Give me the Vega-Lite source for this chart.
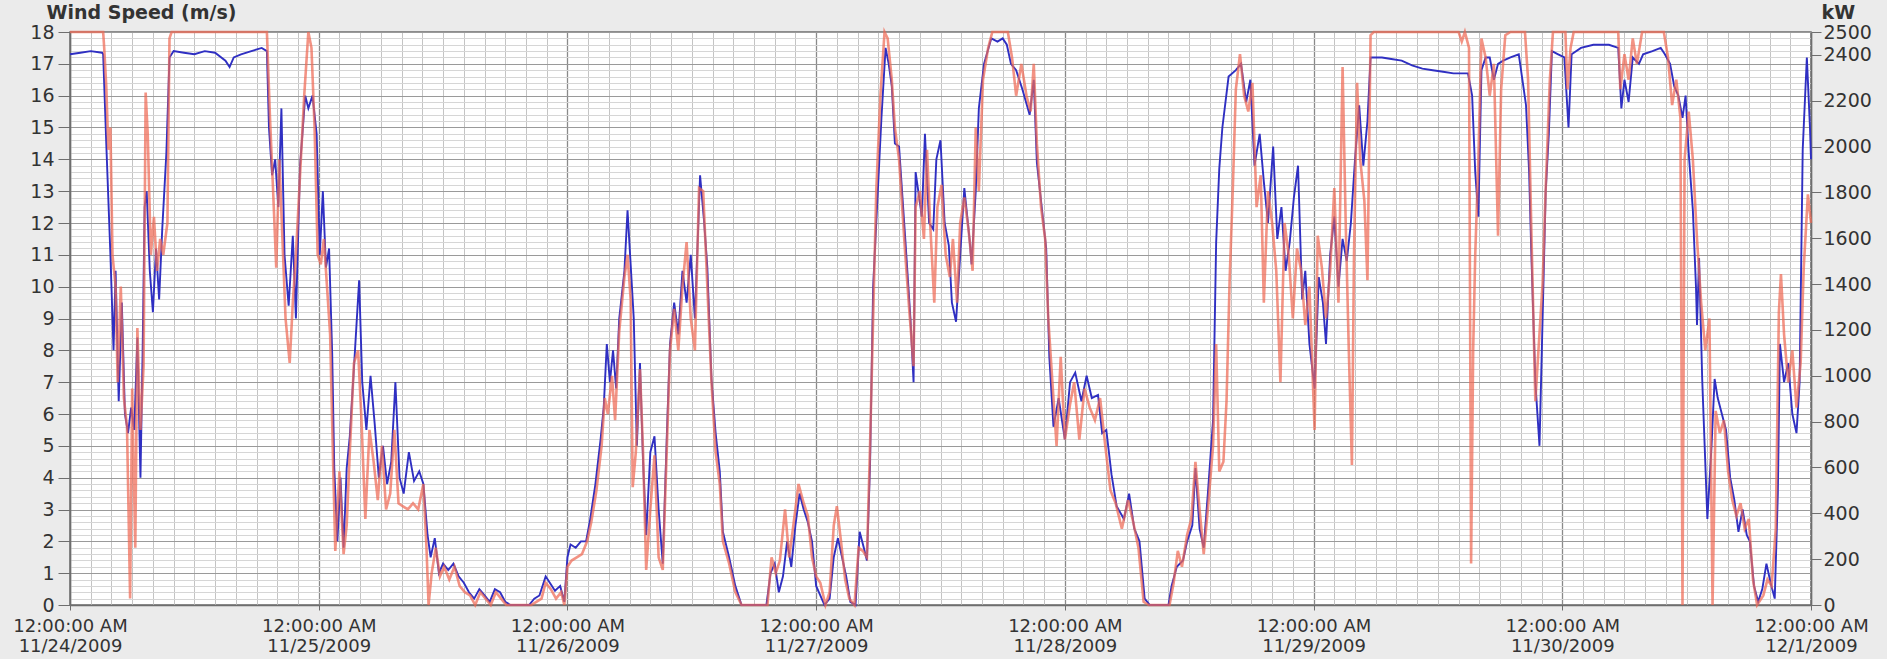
{
  "$schema": "https://vega.github.io/schema/vega-lite/v6.json",
  "width": 1741,
  "height": 573,
  "autosize": {"type": "none"},
  "padding": {"left": 70, "top": 32, "right": 76, "bottom": 54},
  "background": "#ebebeb",
  "view": {"fill": "white", "stroke": "#6e6e6e", "strokeWidth": 1.5},
  "config": {"font": "DejaVu Sans"},
  "datasets": {
    "wind": [
      {"hours":0,"wind_speed":17.3},{"hours":1,"wind_speed":17.35},{"hours":2,"wind_speed":17.4},{"hours":3.1,"wind_speed":17.35},{"hours":3.2,"wind_speed":17.3},{"hours":3.5,"wind_speed":14.5},{"hours":3.9,"wind_speed":11.0},{"hours":4.2,"wind_speed":8.0},{"hours":4.4,"wind_speed":10.5},{"hours":4.7,"wind_speed":6.4},{"hours":5.0,"wind_speed":9.5},{"hours":5.3,"wind_speed":6.0},{"hours":5.6,"wind_speed":5.4},{"hours":5.9,"wind_speed":6.2},{"hours":6.2,"wind_speed":5.5},{"hours":6.5,"wind_speed":8.4},{"hours":6.8,"wind_speed":4.0},{"hours":7.0,"wind_speed":7.8},{"hours":7.2,"wind_speed":12.5},{"hours":7.4,"wind_speed":13.0},{"hours":7.7,"wind_speed":10.5},{"hours":8.0,"wind_speed":9.2},{"hours":8.3,"wind_speed":11.2},{"hours":8.6,"wind_speed":9.6},{"hours":8.9,"wind_speed":11.8},{"hours":9.3,"wind_speed":14.2},{"hours":9.6,"wind_speed":17.2},{"hours":10,"wind_speed":17.4},{"hours":11,"wind_speed":17.35},{"hours":12,"wind_speed":17.3},{"hours":13,"wind_speed":17.4},{"hours":14,"wind_speed":17.35},{"hours":15,"wind_speed":17.1},{"hours":15.4,"wind_speed":16.9},{"hours":15.8,"wind_speed":17.2},{"hours":16.5,"wind_speed":17.3},{"hours":17.5,"wind_speed":17.4},{"hours":18.5,"wind_speed":17.5},{"hours":19.0,"wind_speed":17.4},{"hours":19.2,"wind_speed":15.0},{"hours":19.5,"wind_speed":13.5},{"hours":19.8,"wind_speed":14.0},{"hours":20.1,"wind_speed":12.5},{"hours":20.4,"wind_speed":15.6},{"hours":20.7,"wind_speed":11.0},{"hours":21.1,"wind_speed":9.4},{"hours":21.5,"wind_speed":11.6},{"hours":21.8,"wind_speed":9.0},{"hours":22.2,"wind_speed":13.8},{"hours":22.7,"wind_speed":16.0},{"hours":23.0,"wind_speed":15.6},{"hours":23.4,"wind_speed":16.0},{"hours":23.8,"wind_speed":14.8},{"hours":24.1,"wind_speed":11.0},{"hours":24.4,"wind_speed":13.0},{"hours":24.7,"wind_speed":10.6},{"hours":25.0,"wind_speed":11.2},{"hours":25.3,"wind_speed":7.9},{"hours":25.5,"wind_speed":4.3},{"hours":25.8,"wind_speed":2.0},{"hours":26.1,"wind_speed":4.0},{"hours":26.4,"wind_speed":1.8},{"hours":26.7,"wind_speed":4.3},{"hours":27.0,"wind_speed":5.3},{"hours":27.5,"wind_speed":8.0},{"hours":27.9,"wind_speed":10.2},{"hours":28.2,"wind_speed":7.0},{"hours":28.6,"wind_speed":5.5},{"hours":29.0,"wind_speed":7.2},{"hours":29.4,"wind_speed":5.7},{"hours":29.8,"wind_speed":4.0},{"hours":30.2,"wind_speed":5.0},{"hours":30.6,"wind_speed":3.8},{"hours":31.0,"wind_speed":4.5},{"hours":31.4,"wind_speed":7.0},{"hours":31.8,"wind_speed":4.0},{"hours":32.2,"wind_speed":3.5},{"hours":32.7,"wind_speed":4.8},{"hours":33.2,"wind_speed":3.9},{"hours":33.7,"wind_speed":4.2},{"hours":34.1,"wind_speed":3.8},{"hours":34.5,"wind_speed":2.2},{"hours":34.8,"wind_speed":1.5},{"hours":35.2,"wind_speed":2.1},{"hours":35.6,"wind_speed":1.0},{"hours":36.0,"wind_speed":1.3},{"hours":36.5,"wind_speed":1.1},{"hours":37.0,"wind_speed":1.3},{"hours":37.5,"wind_speed":0.9},{"hours":38.0,"wind_speed":0.7},{"hours":38.5,"wind_speed":0.4},{"hours":39.0,"wind_speed":0.2},{"hours":39.5,"wind_speed":0.5},{"hours":40.0,"wind_speed":0.3},{"hours":40.5,"wind_speed":0.1},{"hours":41.0,"wind_speed":0.5},{"hours":41.5,"wind_speed":0.4},{"hours":42.0,"wind_speed":0.1},{"hours":42.5,"wind_speed":0},{"hours":44.3,"wind_speed":0},{"hours":44.8,"wind_speed":0.2},{"hours":45.3,"wind_speed":0.3},{"hours":45.9,"wind_speed":0.9},{"hours":46.3,"wind_speed":0.7},{"hours":46.8,"wind_speed":0.45},{"hours":47.3,"wind_speed":0.6},{"hours":47.7,"wind_speed":0.1},{"hours":48.0,"wind_speed":1.5},{"hours":48.3,"wind_speed":1.9},{"hours":48.8,"wind_speed":1.8},{"hours":49.3,"wind_speed":2.0},{"hours":49.8,"wind_speed":2.0},{"hours":50.2,"wind_speed":2.7},{"hours":50.7,"wind_speed":3.8},{"hours":51.2,"wind_speed":5.2},{"hours":51.5,"wind_speed":6.2},{"hours":51.8,"wind_speed":8.2},{"hours":52.1,"wind_speed":7.0},{"hours":52.4,"wind_speed":8.0},{"hours":52.7,"wind_speed":6.8},{"hours":53.0,"wind_speed":9.0},{"hours":53.5,"wind_speed":10.5},{"hours":53.8,"wind_speed":12.4},{"hours":54.1,"wind_speed":10.7},{"hours":54.4,"wind_speed":9.0},{"hours":54.7,"wind_speed":5.0},{"hours":55.0,"wind_speed":7.6},{"hours":55.3,"wind_speed":4.5},{"hours":55.6,"wind_speed":2.2},{"hours":56.0,"wind_speed":4.8},{"hours":56.4,"wind_speed":5.3},{"hours":56.8,"wind_speed":3.0},{"hours":57.2,"wind_speed":1.3},{"hours":57.6,"wind_speed":5.4},{"hours":57.9,"wind_speed":8.2},{"hours":58.3,"wind_speed":9.5},{"hours":58.7,"wind_speed":8.5},{"hours":59.1,"wind_speed":10.5},{"hours":59.5,"wind_speed":9.5},{"hours":59.9,"wind_speed":11.0},{"hours":60.3,"wind_speed":9.0},{"hours":60.8,"wind_speed":13.5},{"hours":61.2,"wind_speed":12.0},{"hours":61.5,"wind_speed":10.6},{"hours":61.9,"wind_speed":7.1},{"hours":62.3,"wind_speed":5.4},{"hours":62.7,"wind_speed":4.2},{"hours":63.0,"wind_speed":2.3},{"hours":63.6,"wind_speed":1.5},{"hours":64.2,"wind_speed":0.6},{"hours":64.8,"wind_speed":0},{"hours":67.2,"wind_speed":0},{"hours":67.6,"wind_speed":1.0},{"hours":68.0,"wind_speed":1.3},{"hours":68.4,"wind_speed":0.4},{"hours":68.8,"wind_speed":0.9},{"hours":69.2,"wind_speed":2.0},{"hours":69.6,"wind_speed":1.2},{"hours":70.0,"wind_speed":2.5},{"hours":70.4,"wind_speed":3.5},{"hours":70.8,"wind_speed":3.0},{"hours":71.2,"wind_speed":2.6},{"hours":71.6,"wind_speed":2.0},{"hours":72.0,"wind_speed":0.6},{"hours":72.4,"wind_speed":0.3},{"hours":72.8,"wind_speed":0},{"hours":73.3,"wind_speed":0.2},{"hours":73.7,"wind_speed":1.5},{"hours":74.1,"wind_speed":2.1},{"hours":74.5,"wind_speed":1.5},{"hours":74.9,"wind_speed":0.9},{"hours":75.3,"wind_speed":0.1},{"hours":75.8,"wind_speed":0},{"hours":76.2,"wind_speed":2.3},{"hours":76.6,"wind_speed":1.8},{"hours":76.9,"wind_speed":1.4},{"hours":77.2,"wind_speed":4.4},{"hours":77.5,"wind_speed":10.0},{"hours":77.8,"wind_speed":12.0},{"hours":78.3,"wind_speed":15.3},{"hours":78.7,"wind_speed":17.5},{"hours":79.0,"wind_speed":17.0},{"hours":79.3,"wind_speed":16.3},{"hours":79.6,"wind_speed":14.5},{"hours":80.0,"wind_speed":14.4},{"hours":80.6,"wind_speed":11.5},{"hours":81.1,"wind_speed":9.0},{"hours":81.4,"wind_speed":7.0},{"hours":81.6,"wind_speed":13.6},{"hours":82.2,"wind_speed":12.2},{"hours":82.5,"wind_speed":14.8},{"hours":82.9,"wind_speed":12.0},{"hours":83.3,"wind_speed":11.8},{"hours":83.6,"wind_speed":14.0},{"hours":84.0,"wind_speed":14.6},{"hours":84.4,"wind_speed":12.0},{"hours":84.8,"wind_speed":11.3},{"hours":85.1,"wind_speed":9.5},{"hours":85.5,"wind_speed":8.9},{"hours":85.9,"wind_speed":11.0},{"hours":86.3,"wind_speed":13.1},{"hours":86.8,"wind_speed":11.5},{"hours":87.0,"wind_speed":10.7},{"hours":87.4,"wind_speed":13.0},{"hours":87.7,"wind_speed":15.6},{"hours":88.2,"wind_speed":17.0},{"hours":88.9,"wind_speed":17.8},{"hours":89.5,"wind_speed":17.7},{"hours":90.0,"wind_speed":17.8},{"hours":90.4,"wind_speed":17.6},{"hours":90.8,"wind_speed":17.0},{"hours":91.3,"wind_speed":16.8},{"hours":91.9,"wind_speed":16.2},{"hours":92.6,"wind_speed":15.4},{"hours":93.0,"wind_speed":16.5},{"hours":93.3,"wind_speed":13.9},{"hours":93.8,"wind_speed":12.4},{"hours":94.2,"wind_speed":11.2},{"hours":94.5,"wind_speed":7.8},{"hours":94.9,"wind_speed":5.6},{"hours":95.4,"wind_speed":6.5},{"hours":96.0,"wind_speed":5.2},{"hours":96.5,"wind_speed":7.0},{"hours":97.0,"wind_speed":7.3},{"hours":97.6,"wind_speed":6.4},{"hours":98.1,"wind_speed":7.2},{"hours":98.6,"wind_speed":6.5},{"hours":99.2,"wind_speed":6.6},{"hours":99.6,"wind_speed":5.4},{"hours":100.0,"wind_speed":5.5},{"hours":100.5,"wind_speed":4.1},{"hours":101.0,"wind_speed":3.1},{"hours":101.7,"wind_speed":2.7},{"hours":102.2,"wind_speed":3.5},{"hours":102.7,"wind_speed":2.4},{"hours":103.2,"wind_speed":2.0},{"hours":103.7,"wind_speed":0.2},{"hours":104.2,"wind_speed":0},{"hours":106.0,"wind_speed":0},{"hours":106.3,"wind_speed":0.6},{"hours":106.8,"wind_speed":1.2},{"hours":107.4,"wind_speed":1.4},{"hours":107.8,"wind_speed":2.0},{"hours":108.3,"wind_speed":2.5},{"hours":108.6,"wind_speed":4.3},{"hours":109.0,"wind_speed":2.4},{"hours":109.4,"wind_speed":1.8},{"hours":109.8,"wind_speed":3.5},{"hours":110.3,"wind_speed":5.8},{"hours":110.6,"wind_speed":11.4},{"hours":110.9,"wind_speed":13.7},{"hours":111.2,"wind_speed":15.0},{"hours":111.8,"wind_speed":16.6},{"hours":112.5,"wind_speed":16.8},{"hours":113.0,"wind_speed":17.0},{"hours":113.5,"wind_speed":15.8},{"hours":113.9,"wind_speed":16.5},{"hours":114.3,"wind_speed":13.8},{"hours":114.8,"wind_speed":14.8},{"hours":115.2,"wind_speed":13.3},{"hours":115.6,"wind_speed":12.0},{"hours":116.1,"wind_speed":14.4},{"hours":116.5,"wind_speed":11.5},{"hours":116.9,"wind_speed":12.5},{"hours":117.3,"wind_speed":10.5},{"hours":117.7,"wind_speed":11.4},{"hours":118.1,"wind_speed":12.8},{"hours":118.5,"wind_speed":13.8},{"hours":118.9,"wind_speed":9.6},{"hours":119.2,"wind_speed":10.5},{"hours":119.6,"wind_speed":8.2},{"hours":120.1,"wind_speed":6.8},{"hours":120.5,"wind_speed":10.3},{"hours":120.9,"wind_speed":9.5},{"hours":121.2,"wind_speed":8.2},{"hours":121.6,"wind_speed":11.0},{"hours":122.0,"wind_speed":12.2},{"hours":122.4,"wind_speed":10.0},{"hours":122.8,"wind_speed":11.5},{"hours":123.2,"wind_speed":10.8},{"hours":123.6,"wind_speed":12.0},{"hours":124.0,"wind_speed":14.0},{"hours":124.4,"wind_speed":15.7},{"hours":124.8,"wind_speed":13.8},{"hours":125.2,"wind_speed":15.2},{"hours":125.5,"wind_speed":17.2},{"hours":126.6,"wind_speed":17.2},{"hours":127.5,"wind_speed":17.15},{"hours":128.5,"wind_speed":17.1},{"hours":129.5,"wind_speed":16.95},{"hours":130.5,"wind_speed":16.85},{"hours":131.5,"wind_speed":16.8},{"hours":132.5,"wind_speed":16.75},{"hours":133.5,"wind_speed":16.7},{"hours":134.9,"wind_speed":16.7},{"hours":135.3,"wind_speed":16.0},{"hours":135.6,"wind_speed":13.6},{"hours":135.9,"wind_speed":12.2},{"hours":136.2,"wind_speed":16.8},{"hours":136.6,"wind_speed":17.2},{"hours":137.0,"wind_speed":17.2},{"hours":137.4,"wind_speed":16.5},{"hours":137.8,"wind_speed":17.0},{"hours":138.3,"wind_speed":17.1},{"hours":139.0,"wind_speed":17.2},{"hours":139.8,"wind_speed":17.3},{"hours":140.5,"wind_speed":15.7},{"hours":140.8,"wind_speed":13.6},{"hours":141.0,"wind_speed":11.2},{"hours":141.4,"wind_speed":7.0},{"hours":141.8,"wind_speed":5.0},{"hours":142.1,"wind_speed":9.0},{"hours":142.4,"wind_speed":13.0},{"hours":142.7,"wind_speed":14.8},{"hours":143.0,"wind_speed":17.4},{"hours":143.6,"wind_speed":17.3},{"hours":144.2,"wind_speed":17.2},{"hours":144.6,"wind_speed":15.0},{"hours":144.9,"wind_speed":17.3},{"hours":145.8,"wind_speed":17.5},{"hours":147.0,"wind_speed":17.6},{"hours":148.5,"wind_speed":17.6},{"hours":149.4,"wind_speed":17.5},{"hours":149.7,"wind_speed":15.6},{"hours":150.0,"wind_speed":16.5},{"hours":150.4,"wind_speed":15.8},{"hours":150.8,"wind_speed":17.2},{"hours":151.4,"wind_speed":17.0},{"hours":151.8,"wind_speed":17.3},{"hours":152.7,"wind_speed":17.4},{"hours":153.5,"wind_speed":17.5},{"hours":153.9,"wind_speed":17.3},{"hours":154.4,"wind_speed":17.0},{"hours":154.8,"wind_speed":16.3},{"hours":155.2,"wind_speed":16.0},{"hours":155.6,"wind_speed":15.3},{"hours":155.9,"wind_speed":16.0},{"hours":156.2,"wind_speed":14.2},{"hours":156.6,"wind_speed":12.4},{"hours":156.9,"wind_speed":10.0},{"hours":157.0,"wind_speed":8.8},{"hours":157.2,"wind_speed":10.9},{"hours":157.5,"wind_speed":7.1},{"hours":158.0,"wind_speed":2.7},{"hours":158.4,"wind_speed":5.0},{"hours":158.7,"wind_speed":7.1},{"hours":159.0,"wind_speed":6.5},{"hours":159.4,"wind_speed":6.0},{"hours":159.8,"wind_speed":5.5},{"hours":160.2,"wind_speed":4.0},{"hours":160.6,"wind_speed":3.3},{"hours":161.0,"wind_speed":2.3},{"hours":161.4,"wind_speed":3.0},{"hours":161.8,"wind_speed":2.2},{"hours":162.1,"wind_speed":2.0},{"hours":162.5,"wind_speed":0.6},{"hours":162.9,"wind_speed":0.1},{"hours":163.3,"wind_speed":0.5},{"hours":163.7,"wind_speed":1.3},{"hours":164.1,"wind_speed":0.7},{"hours":164.5,"wind_speed":0.2},{"hours":164.8,"wind_speed":3.5},{"hours":165.0,"wind_speed":8.2},{"hours":165.4,"wind_speed":7.0},{"hours":165.8,"wind_speed":7.6},{"hours":166.2,"wind_speed":6.0},{"hours":166.6,"wind_speed":5.4},{"hours":166.9,"wind_speed":7.0},{"hours":167.2,"wind_speed":14.3},{"hours":167.6,"wind_speed":17.2},{"hours":167.9,"wind_speed":15.0},{"hours":168.0,"wind_speed":14.0}
    ],
    "power": [
      {"hours":0,"power_kw":2500},{"hours":3.2,"power_kw":2500},{"hours":3.3,"power_kw":2431},{"hours":3.5,"power_kw":2264},{"hours":3.7,"power_kw":1986},{"hours":3.9,"power_kw":2083},{"hours":4.1,"power_kw":1528},{"hours":4.4,"power_kw":1389},{"hours":4.6,"power_kw":972},{"hours":4.9,"power_kw":1389},{"hours":5.2,"power_kw":903},{"hours":5.5,"power_kw":778},{"hours":5.8,"power_kw":28},{"hours":6.0,"power_kw":944},{"hours":6.3,"power_kw":250},{"hours":6.5,"power_kw":1208},{"hours":6.8,"power_kw":764},{"hours":7.1,"power_kw":1042},{"hours":7.3,"power_kw":2236},{"hours":7.5,"power_kw":2056},{"hours":7.8,"power_kw":1528},{"hours":8.1,"power_kw":1694},{"hours":8.4,"power_kw":1458},{"hours":8.7,"power_kw":1597},{"hours":9.0,"power_kw":1528},{"hours":9.4,"power_kw":1667},{"hours":9.6,"power_kw":2472},{"hours":9.8,"power_kw":2500},{"hours":19.0,"power_kw":2500},{"hours":19.3,"power_kw":2125},{"hours":19.6,"power_kw":1806},{"hours":19.9,"power_kw":1472},{"hours":20.2,"power_kw":1944},{"hours":20.5,"power_kw":1597},{"hours":20.8,"power_kw":1250},{"hours":21.2,"power_kw":1056},{"hours":21.5,"power_kw":1319},{"hours":21.8,"power_kw":1528},{"hours":22.2,"power_kw":1875},{"hours":22.6,"power_kw":2222},{"hours":23.0,"power_kw":2500},{"hours":23.3,"power_kw":2431},{"hours":23.6,"power_kw":2083},{"hours":23.9,"power_kw":1528},{"hours":24.2,"power_kw":1486},{"hours":24.5,"power_kw":1597},{"hours":24.8,"power_kw":1389},{"hours":25.1,"power_kw":1181},{"hours":25.4,"power_kw":597},{"hours":25.6,"power_kw":236},{"hours":26.0,"power_kw":583},{"hours":26.4,"power_kw":222},{"hours":26.7,"power_kw":347},{"hours":27.0,"power_kw":667},{"hours":27.4,"power_kw":1056},{"hours":27.8,"power_kw":1111},{"hours":28.1,"power_kw":833},{"hours":28.5,"power_kw":375},{"hours":28.9,"power_kw":764},{"hours":29.3,"power_kw":625},{"hours":29.7,"power_kw":458},{"hours":30.1,"power_kw":694},{"hours":30.5,"power_kw":417},{"hours":30.9,"power_kw":486},{"hours":31.3,"power_kw":764},{"hours":31.7,"power_kw":444},{"hours":32.1,"power_kw":431},{"hours":32.6,"power_kw":417},{"hours":33.1,"power_kw":444},{"hours":33.6,"power_kw":417},{"hours":34.1,"power_kw":528},{"hours":34.4,"power_kw":250},{"hours":34.6,"power_kw":0},{"hours":34.9,"power_kw":139},{"hours":35.3,"power_kw":250},{"hours":35.7,"power_kw":125},{"hours":36.1,"power_kw":167},{"hours":36.6,"power_kw":111},{"hours":37.1,"power_kw":167},{"hours":37.6,"power_kw":83},{"hours":38.1,"power_kw":56},{"hours":38.6,"power_kw":42},{"hours":39.1,"power_kw":0},{"hours":39.6,"power_kw":56},{"hours":40.1,"power_kw":28},{"hours":40.6,"power_kw":0},{"hours":41.1,"power_kw":56},{"hours":41.6,"power_kw":28},{"hours":42.1,"power_kw":0},{"hours":44.5,"power_kw":0},{"hours":45.0,"power_kw":14},{"hours":45.5,"power_kw":28},{"hours":45.9,"power_kw":97},{"hours":46.4,"power_kw":69},{"hours":46.9,"power_kw":28},{"hours":47.4,"power_kw":56},{"hours":47.7,"power_kw":0},{"hours":48.0,"power_kw":167},{"hours":48.4,"power_kw":194},{"hours":48.9,"power_kw":208},{"hours":49.4,"power_kw":222},{"hours":49.9,"power_kw":278},{"hours":50.3,"power_kw":361},{"hours":50.8,"power_kw":500},{"hours":51.3,"power_kw":694},{"hours":51.6,"power_kw":903},{"hours":51.9,"power_kw":833},{"hours":52.3,"power_kw":1000},{"hours":52.6,"power_kw":806},{"hours":53.0,"power_kw":1194},{"hours":53.5,"power_kw":1431},{"hours":53.8,"power_kw":1528},{"hours":54.1,"power_kw":1333},{"hours":54.3,"power_kw":514},{"hours":54.6,"power_kw":667},{"hours":55.0,"power_kw":1028},{"hours":55.3,"power_kw":667},{"hours":55.6,"power_kw":153},{"hours":56.0,"power_kw":417},{"hours":56.4,"power_kw":653},{"hours":56.8,"power_kw":208},{"hours":57.2,"power_kw":153},{"hours":57.6,"power_kw":694},{"hours":57.9,"power_kw":1111},{"hours":58.3,"power_kw":1292},{"hours":58.7,"power_kw":1111},{"hours":59.1,"power_kw":1389},{"hours":59.5,"power_kw":1583},{"hours":59.9,"power_kw":1250},{"hours":60.3,"power_kw":1111},{"hours":60.7,"power_kw":1819},{"hours":61.1,"power_kw":1806},{"hours":61.5,"power_kw":1389},{"hours":61.9,"power_kw":972},{"hours":62.3,"power_kw":667},{"hours":62.7,"power_kw":528},{"hours":63.0,"power_kw":278},{"hours":63.6,"power_kw":181},{"hours":64.2,"power_kw":56},{"hours":64.8,"power_kw":0},{"hours":67.3,"power_kw":0},{"hours":67.7,"power_kw":208},{"hours":68.1,"power_kw":139},{"hours":68.5,"power_kw":194},{"hours":69.0,"power_kw":417},{"hours":69.4,"power_kw":208},{"hours":69.8,"power_kw":347},{"hours":70.3,"power_kw":528},{"hours":70.8,"power_kw":444},{"hours":71.2,"power_kw":389},{"hours":71.6,"power_kw":208},{"hours":72.0,"power_kw":125},{"hours":72.4,"power_kw":97},{"hours":72.9,"power_kw":0},{"hours":73.3,"power_kw":56},{"hours":73.7,"power_kw":347},{"hours":74.0,"power_kw":431},{"hours":74.4,"power_kw":278},{"hours":74.8,"power_kw":111},{"hours":75.2,"power_kw":28},{"hours":75.7,"power_kw":0},{"hours":76.1,"power_kw":250},{"hours":76.5,"power_kw":236},{"hours":76.9,"power_kw":208},{"hours":77.2,"power_kw":694},{"hours":77.5,"power_kw":1250},{"hours":77.8,"power_kw":1806},{"hours":78.2,"power_kw":2222},{"hours":78.6,"power_kw":2500},{"hours":78.9,"power_kw":2472},{"hours":79.3,"power_kw":2292},{"hours":79.6,"power_kw":2083},{"hours":80.0,"power_kw":1944},{"hours":80.6,"power_kw":1528},{"hours":81.0,"power_kw":1278},{"hours":81.4,"power_kw":1042},{"hours":81.6,"power_kw":1736},{"hours":82.0,"power_kw":1806},{"hours":82.4,"power_kw":1597},{"hours":82.7,"power_kw":1986},{"hours":83.0,"power_kw":1667},{"hours":83.4,"power_kw":1319},{"hours":83.7,"power_kw":1736},{"hours":84.1,"power_kw":1833},{"hours":84.5,"power_kw":1528},{"hours":84.9,"power_kw":1431},{"hours":85.2,"power_kw":1597},{"hours":85.6,"power_kw":1319},{"hours":85.9,"power_kw":1667},{"hours":86.3,"power_kw":1778},{"hours":86.7,"power_kw":1639},{"hours":87.1,"power_kw":1458},{"hours":87.4,"power_kw":2083},{"hours":87.7,"power_kw":1806},{"hours":88.1,"power_kw":2292},{"hours":88.6,"power_kw":2431},{"hours":89.0,"power_kw":2500},{"hours":90.5,"power_kw":2500},{"hours":90.9,"power_kw":2389},{"hours":91.3,"power_kw":2222},{"hours":91.8,"power_kw":2361},{"hours":92.3,"power_kw":2222},{"hours":92.7,"power_kw":2153},{"hours":93.0,"power_kw":2361},{"hours":93.3,"power_kw":2014},{"hours":93.7,"power_kw":1736},{"hours":94.1,"power_kw":1597},{"hours":94.4,"power_kw":1250},{"hours":94.8,"power_kw":972},{"hours":95.2,"power_kw":694},{"hours":95.6,"power_kw":1083},{"hours":96.0,"power_kw":722},{"hours":96.5,"power_kw":875},{"hours":96.9,"power_kw":972},{"hours":97.4,"power_kw":722},{"hours":97.9,"power_kw":944},{"hours":98.4,"power_kw":861},{"hours":98.9,"power_kw":806},{"hours":99.4,"power_kw":903},{"hours":99.9,"power_kw":694},{"hours":100.4,"power_kw":500},{"hours":100.9,"power_kw":444},{"hours":101.5,"power_kw":333},{"hours":102.1,"power_kw":458},{"hours":102.6,"power_kw":361},{"hours":103.1,"power_kw":250},{"hours":103.6,"power_kw":14},{"hours":104.1,"power_kw":0},{"hours":106.1,"power_kw":0},{"hours":106.5,"power_kw":97},{"hours":106.9,"power_kw":236},{"hours":107.3,"power_kw":167},{"hours":107.8,"power_kw":306},{"hours":108.2,"power_kw":375},{"hours":108.6,"power_kw":625},{"hours":109.0,"power_kw":417},{"hours":109.4,"power_kw":222},{"hours":109.8,"power_kw":417},{"hours":110.3,"power_kw":694},{"hours":110.6,"power_kw":1139},{"hours":110.9,"power_kw":583},{"hours":111.3,"power_kw":625},{"hours":111.6,"power_kw":889},{"hours":111.9,"power_kw":1417},{"hours":112.2,"power_kw":1806},{"hours":112.5,"power_kw":2250},{"hours":112.9,"power_kw":2403},{"hours":113.3,"power_kw":2222},{"hours":113.7,"power_kw":2153},{"hours":114.1,"power_kw":2278},{"hours":114.5,"power_kw":1736},{"hours":114.9,"power_kw":1875},{"hours":115.2,"power_kw":1319},{"hours":115.6,"power_kw":1806},{"hours":116.0,"power_kw":1667},{"hours":116.4,"power_kw":1458},{"hours":116.8,"power_kw":972},{"hours":117.2,"power_kw":1667},{"hours":117.6,"power_kw":1528},{"hours":118.0,"power_kw":1250},{"hours":118.4,"power_kw":1556},{"hours":118.8,"power_kw":1458},{"hours":119.2,"power_kw":1222},{"hours":119.6,"power_kw":1389},{"hours":120.1,"power_kw":764},{"hours":120.4,"power_kw":1611},{"hours":120.8,"power_kw":1472},{"hours":121.2,"power_kw":1250},{"hours":121.6,"power_kw":1458},{"hours":122.0,"power_kw":1819},{"hours":122.4,"power_kw":1319},{"hours":122.8,"power_kw":2347},{"hours":123.1,"power_kw":1667},{"hours":123.4,"power_kw":1111},{"hours":123.7,"power_kw":611},{"hours":123.9,"power_kw":1528},{"hours":124.2,"power_kw":2278},{"hours":124.5,"power_kw":1944},{"hours":124.9,"power_kw":1764},{"hours":125.2,"power_kw":1417},{"hours":125.5,"power_kw":2486},{"hours":125.8,"power_kw":2500},{"hours":134.0,"power_kw":2500},{"hours":134.3,"power_kw":2458},{"hours":134.6,"power_kw":2500},{"hours":135.0,"power_kw":2431},{"hours":135.2,"power_kw":181},{"hours":135.4,"power_kw":1111},{"hours":135.6,"power_kw":1528},{"hours":135.9,"power_kw":1944},{"hours":136.2,"power_kw":2472},{"hours":136.6,"power_kw":2389},{"hours":137.0,"power_kw":2222},{"hours":137.4,"power_kw":2361},{"hours":137.8,"power_kw":1611},{"hours":138.1,"power_kw":2250},{"hours":138.5,"power_kw":2486},{"hours":139.0,"power_kw":2500},{"hours":140.4,"power_kw":2500},{"hours":140.7,"power_kw":2292},{"hours":141.0,"power_kw":1667},{"hours":141.4,"power_kw":889},{"hours":141.7,"power_kw":1111},{"hours":142.1,"power_kw":1403},{"hours":142.4,"power_kw":1819},{"hours":142.8,"power_kw":2292},{"hours":143.1,"power_kw":2500},{"hours":144.3,"power_kw":2500},{"hours":144.5,"power_kw":2250},{"hours":144.8,"power_kw":2431},{"hours":145.1,"power_kw":2500},{"hours":149.4,"power_kw":2500},{"hours":149.6,"power_kw":2250},{"hours":150.0,"power_kw":2403},{"hours":150.4,"power_kw":2292},{"hours":150.8,"power_kw":2472},{"hours":151.2,"power_kw":2361},{"hours":151.7,"power_kw":2500},{"hours":153.8,"power_kw":2500},{"hours":154.2,"power_kw":2389},{"hours":154.6,"power_kw":2181},{"hours":155.0,"power_kw":2292},{"hours":155.4,"power_kw":2125},{"hours":155.6,"power_kw":0},{"hours":155.8,"power_kw":1944},{"hours":156.2,"power_kw":2153},{"hours":156.6,"power_kw":1944},{"hours":157.0,"power_kw":1597},{"hours":157.4,"power_kw":1319},{"hours":157.8,"power_kw":1111},{"hours":158.2,"power_kw":1250},{"hours":158.5,"power_kw":0},{"hours":158.8,"power_kw":847},{"hours":159.2,"power_kw":750},{"hours":159.6,"power_kw":806},{"hours":160.0,"power_kw":583},{"hours":160.4,"power_kw":458},{"hours":160.8,"power_kw":389},{"hours":161.2,"power_kw":444},{"hours":161.6,"power_kw":333},{"hours":162.0,"power_kw":375},{"hours":162.4,"power_kw":111},{"hours":162.8,"power_kw":0},{"hours":163.4,"power_kw":42},{"hours":163.8,"power_kw":111},{"hours":164.2,"power_kw":83},{"hours":164.6,"power_kw":333},{"hours":164.9,"power_kw":1278},{"hours":165.1,"power_kw":1444},{"hours":165.4,"power_kw":1181},{"hours":165.8,"power_kw":972},{"hours":166.2,"power_kw":1111},{"hours":166.6,"power_kw":861},{"hours":167.0,"power_kw":1056},{"hours":167.3,"power_kw":1472},{"hours":167.7,"power_kw":1792},{"hours":168.0,"power_kw":1667}
    ]
  },
  "layer": [
    {
      "data": {"name": "wind"},
      "mark": {"type": "point", "opacity": 0},
      "encoding": {
        "x": {
          "field": "hours", "type": "quantitative",
          "scale": {"domain": [0, 168], "nice": false, "zero": false},
          "axis": {
            "orient": "bottom",
            "values": [0,2,4,6,8,10,12,14,16,18,20,22,24,26,28,30,32,34,36,38,40,42,44,46,48,50,52,54,56,58,60,62,64,66,68,70,72,74,76,78,80,82,84,86,88,90,92,94,96,98,100,102,104,106,108,110,112,114,116,118,120,122,124,126,128,130,132,134,136,138,140,142,144,146,148,150,152,154,156,158,160,162,164,166,168],
            "grid": true, "gridColor": "#c4c4c4", "gridWidth": 1,
            "labels": false, "ticks": false, "domain": false, "title": null
          }
        },
        "y": {
          "field": "wind_speed", "type": "quantitative",
          "scale": {"domain": [0, 18], "nice": false, "zero": true},
          "axis": {
            "orient": "left",
            "values": [0,0.2,0.4,0.6,0.8,1,1.2,1.4,1.6,1.8,2,2.2,2.4,2.6,2.8,3,3.2,3.4,3.6,3.8,4,4.2,4.4,4.6,4.8,5,5.2,5.4,5.6,5.8,6,6.2,6.4,6.6,6.8,7,7.2,7.4,7.6,7.8,8,8.2,8.4,8.6,8.8,9,9.2,9.4,9.6,9.8,10,10.2,10.4,10.6,10.8,11,11.2,11.4,11.6,11.8,12,12.2,12.4,12.6,12.8,13,13.2,13.4,13.6,13.8,14,14.2,14.4,14.6,14.8,15,15.2,15.4,15.6,15.8,16,16.2,16.4,16.6,16.8,17,17.2,17.4,17.6,17.8,18],
            "grid": true, "gridColor": "#d6d6d6", "gridWidth": 1,
            "labels": false, "ticks": false, "domain": false, "title": null
          }
        }
      }
    },
    {
      "data": {"name": "wind"},
      "mark": {"type": "line", "color": "#2f2fc2", "strokeWidth": 1.9},
      "encoding": {
        "x": {
          "field": "hours", "type": "quantitative",
          "scale": {"domain": [0, 168], "nice": false, "zero": false},
          "axis": {
            "orient": "bottom",
            "values": [0, 24, 48, 72, 96, 120, 144, 168],
            "grid": true, "gridColor": "#8a8a8a", "gridWidth": 1.3,
            "domain": true, "domainColor": "#6e6e6e", "domainWidth": 1.5,
            "ticks": true, "tickColor": "#6e6e6e", "tickSize": 5,
            "labelPadding": 7, "labelFontSize": 18, "labelColor": "#333333",
            "labelLineHeight": 20, "labelFlush": false, "labelOverlap": false,
            "labelExpr": "['12:00:00 AM', timeFormat(datetime(2009, 10, 24 + datum.value / 24), '%-m/%-d/%Y')]",
            "title": null
          }
        },
        "y": {
          "field": "wind_speed", "type": "quantitative",
          "scale": {"domain": [0, 18], "nice": false, "zero": true},
          "axis": {
            "orient": "left",
            "values": [0,1,2,3,4,5,6,7,8,9,10,11,12,13,14,15,16,17,18],
            "grid": true, "gridColor": "#9a9a9a", "gridWidth": 1.2,
            "domain": true, "domainColor": "#6e6e6e", "domainWidth": 1.5,
            "ticks": true, "tickColor": "#6e6e6e", "tickSize": 12,
            "labelPadding": 4, "labelFontSize": 19, "labelColor": "#333333",
            "labelOverlap": false,
            "title": "Wind Speed (m/s)", "titleAngle": 0, "titleAlign": "left",
            "titleBaseline": "middle", "titleX": -24, "titleY": -20,
            "titleFontSize": 19, "titleFontWeight": "bold", "titleColor": "#333333"
          }
        }
      }
    },
    {
      "data": {"name": "power"},
      "mark": {"type": "line", "color": "#ef6a55", "strokeWidth": 2.6, "opacity": 0.72},
      "encoding": {
        "x": {
          "field": "hours", "type": "quantitative",
          "scale": {"domain": [0, 168], "nice": false, "zero": false},
          "axis": null
        },
        "y": {
          "field": "power_kw", "type": "quantitative",
          "scale": {"domain": [0, 2500], "nice": false, "zero": true},
          "axis": {
            "orient": "right",
            "values": [0,200,400,600,800,1000,1200,1400,1600,1800,2000,2200,2400,2500],
            "format": "d",
            "grid": false,
            "domain": true, "domainColor": "#6e6e6e", "domainWidth": 1.5,
            "ticks": true, "tickColor": "#6e6e6e", "tickSize": 10,
            "labelPadding": 2, "labelFontSize": 19, "labelColor": "#333333",
            "labelOverlap": false,
            "title": "kW", "titleAngle": 0, "titleAlign": "left",
            "titleBaseline": "middle", "titleX": 10, "titleY": -20,
            "titleFontSize": 19, "titleFontWeight": "bold", "titleColor": "#333333"
          }
        }
      }
    }
  ],
  "resolve": {
    "scale": {"y": "independent"},
    "axis": {"x": "independent", "y": "independent"}
  }
}
